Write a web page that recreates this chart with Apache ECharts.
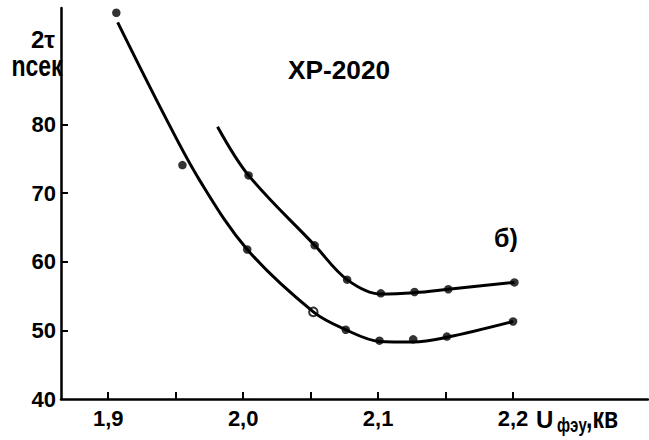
<!DOCTYPE html>
<html>
<head>
<meta charset="utf-8">
<script src="https://cdn.jsdelivr.net/npm/echarts@6/dist/echarts.min.js"></script>
<style>html,body{margin:0;padding:0;background:#fff;}#c{width:649px;height:440px;}</style>
</head>
<body>
<div id="c"></div>
<script>
// Measured points (U, kV ; 2tau, ns)
const upperPtsX = [2.004, 2.053, 2.077, 2.102, 2.127, 2.152, 2.201];
const upperPtsY = [72.6, 62.4, 57.4, 55.4, 55.6, 56.0, 57.0];
const lowerPtsX = [1.906, 1.955, 2.003, 2.052, 2.076, 2.101, 2.126, 2.151, 2.200];
const lowerPtsY = [96.3, 74.1, 61.8, 52.7, 50.1, 48.5, 48.7, 49.1, 51.3];
const lowerOpen = [false, false, false, true, false, false, false, false, false];
// Fitted curves as drawn
const upperCurveX = [1.981, 2.004, 2.053, 2.077, 2.102, 2.127, 2.152, 2.201];
const upperCurveY = [79.7, 72.6, 62.4, 57.4, 55.3, 55.5, 56.0, 57.0];
const lowerCurveX = [1.907, 1.942, 1.968, 2.003, 2.052, 2.076, 2.101, 2.126, 2.151, 2.200];
const lowerCurveY = [94.9, 81.2, 71.8, 61.8, 52.7, 50.1, 48.4, 48.3, 49.0, 51.3];
// Axis ticks / labels
const xTicks = [1.9, 1.95, 2.0, 2.05, 2.1, 2.15, 2.2];
const xLabels = [1.9, 2.0, 2.1, 2.2];
const yTicks = [50, 60, 70, 80];
const yLabels = [40, 50, 60, 70, 80];

const FONT = "'Liberation Sans', Arial, sans-serif";
const zip = (xs, ys) => xs.map((x, i) => [x, ys[i]]);

const chart = echarts.init(document.getElementById('c'), null, {renderer: 'svg'});
chart.setOption({
  animation: false,
  backgroundColor: '#fff',
  grid: {left: 61, right: 1, top: 8, bottom: 41},
  xAxis: {
    type: 'value', min: 1.865, max: 2.3,
    splitLine: {show: false},
    axisLine: {show: true, lineStyle: {color: '#000', width: 2.5}},
    axisTick: {show: true, inside: true, length: 7, customValues: xTicks, lineStyle: {color: '#000', width: 2}},
    axisLabel: {customValues: xLabels, margin: 8, color: '#000', fontFamily: FONT, fontWeight: 'bold', fontSize: 22,
      formatter: v => v.toFixed(1).replace('.', ',')}
  },
  yAxis: {
    type: 'value', min: 40, max: 97,
    splitLine: {show: false},
    axisLine: {show: true, lineStyle: {color: '#000', width: 2.5}},
    axisTick: {show: true, inside: true, length: 7, customValues: yTicks, lineStyle: {color: '#000', width: 2}},
    axisLabel: {customValues: yLabels, margin: 5, color: '#000', fontFamily: FONT, fontWeight: 'bold', fontSize: 22,
      formatter: v => String(v)}
  },
  series: [
    {type: 'line', data: zip(upperCurveX, upperCurveY), smooth: 0.35, showSymbol: false,
      lineStyle: {color: '#000', width: 3}},
    {type: 'line', data: zip(lowerCurveX, lowerCurveY), smooth: 0.35, showSymbol: false,
      lineStyle: {color: '#000', width: 3}},
    {type: 'scatter', data: zip(upperPtsX, upperPtsY), symbol: 'circle', symbolSize: 8.5,
      itemStyle: {color: '#000'}},
    {type: 'scatter', data: zip(lowerPtsX, lowerPtsY).map((p, i) => ({
        value: p,
        itemStyle: lowerOpen[i] ? {color: '#fff', borderColor: '#000', borderWidth: 2} : {color: '#000'}
      })), symbol: 'circle', symbolSize: 8.5, itemStyle: {color: '#000'}}
  ],
  graphic: [
    {type: 'text', x: 43, y: 39, style: {text: '2τ', font: "bold 24px " + FONT, fill: '#000', align: 'center', verticalAlign: 'middle'}},
    {type: 'text', x: 37, y: 66, scaleY: 1.3, style: {text: 'nсек', font: "bold 23px " + FONT, fill: '#000', align: 'center', verticalAlign: 'middle'}},
    {type: 'text', x: 288, y: 70, scaleX: 1.05, style: {text: 'XP-2020', font: "bold 25px " + FONT, fill: '#000', align: 'left', verticalAlign: 'middle'}},
    {type: 'text', x: 506, y: 238, style: {text: 'б)', font: "bold 25px " + FONT, fill: '#000', align: 'center', verticalAlign: 'middle'}},
    {type: 'text', x: 536, y: 419, style: {text: 'U', font: "bold 24px " + FONT, fill: '#000', align: 'left', verticalAlign: 'middle'}},
    {type: 'text', x: 557, y: 425, scaleX: 0.75, style: {text: 'фэу', font: "bold 20px " + FONT, fill: '#000', align: 'left', verticalAlign: 'middle'}},
    {type: 'text', x: 586, y: 418, scaleY: 1.25, style: {text: ',кв', font: "bold 23px " + FONT, fill: '#000', align: 'left', verticalAlign: 'middle'}}
  ]
});
</script>
</body>
</html>
